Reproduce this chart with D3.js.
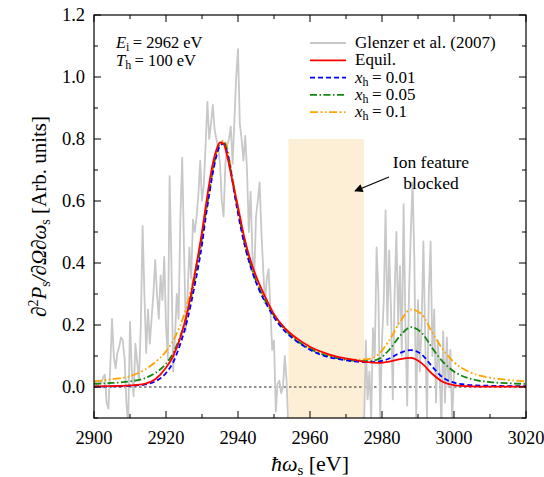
<!DOCTYPE html>
<html>
<head>
<meta charset="utf-8">
<title>Thomson scattering spectrum</title>
<script src="https://cdn.jsdelivr.net/npm/d3@7"></script>
<style>
  body { margin: 0; background: #fff; font-family: 'Liberation Serif', serif; }
  svg text { font-family: 'Liberation Serif', serif; }
</style>
</head>
<body>
<div id="figure"></div>
<script>
// tick labels
const xTicks = [2900, 2920, 2940, 2960, 2980, 3000, 3020];
const yTicks = [0.0, 0.2, 0.4, 0.6, 0.8, 1.0, 1.2];
const blocked = [2954, 2975];   // ion feature window [eV]
const blockedTop = 0.8;

// model curves, sampled energies [eV]
const energy = [2900, 2905, 2910, 2914, 2917, 2920, 2922, 2924, 2926, 2928, 2930, 2931, 2932, 2933, 2934, 2935, 2936, 2937, 2938, 2939, 2940, 2942, 2944, 2946, 2948, 2950, 2953, 2956, 2960, 2964, 2968, 2972, 2976, 2979, 2982, 2985, 2988, 2991, 2994, 2997, 3000, 3005, 3010, 3015, 3020];
const equil = [0.002, 0.003, 0.005, 0.01, 0.025, 0.062, 0.10, 0.16, 0.245, 0.365, 0.50, 0.58, 0.655, 0.72, 0.765, 0.789, 0.785, 0.745, 0.69, 0.635, 0.58, 0.47, 0.39, 0.33, 0.28, 0.235, 0.19, 0.16, 0.13, 0.11, 0.096, 0.088, 0.08, 0.078, 0.082, 0.09, 0.094, 0.077, 0.042, 0.016, 0.006, 0.002, 0.001, 0.001, 0.001];
const xh001 = [0.001, 0.002, 0.004, 0.008, 0.018, 0.045, 0.08, 0.14, 0.22, 0.33, 0.46, 0.545, 0.62, 0.69, 0.745, 0.778, 0.785, 0.755, 0.695, 0.625, 0.56, 0.45, 0.37, 0.31, 0.265, 0.225, 0.18, 0.15, 0.12, 0.10, 0.09, 0.083, 0.08, 0.082, 0.092, 0.11, 0.119, 0.105, 0.065, 0.03, 0.014, 0.006, 0.004, 0.003, 0.003];
const xh005 = [0.01, 0.013, 0.018, 0.028, 0.045, 0.075, 0.11, 0.165, 0.24, 0.35, 0.48, 0.56, 0.63, 0.70, 0.755, 0.785, 0.79, 0.76, 0.70, 0.63, 0.57, 0.455, 0.375, 0.315, 0.27, 0.23, 0.185, 0.153, 0.123, 0.103, 0.092, 0.085, 0.083, 0.09, 0.12, 0.165, 0.193, 0.175, 0.125, 0.08, 0.05, 0.025, 0.016, 0.012, 0.01];
const xh01 = [0.018, 0.025, 0.035, 0.055, 0.08, 0.115, 0.15, 0.2, 0.27, 0.37, 0.49, 0.56, 0.63, 0.70, 0.755, 0.785, 0.795, 0.77, 0.71, 0.64, 0.58, 0.465, 0.38, 0.32, 0.272, 0.232, 0.188, 0.156, 0.126, 0.106, 0.095, 0.088, 0.09, 0.105, 0.15, 0.21, 0.25, 0.235, 0.175, 0.12, 0.08, 0.045, 0.03, 0.023, 0.018];

// Glenzer et al. (2007) measurement, [energy, value], two segments around the blocked ion feature
const glenzerLow = [
  [2900.0, 0.01], [2900.5, 0.02], [2901.0, 0.00], [2901.5, 0.02], [2902.0, 0.01], [2902.5, 0.03],
  [2903.0, 0.04], [2903.5, -0.05], [2904.0, -0.07], [2904.5, 0.06], [2905.0, 0.22], [2905.5, 0.10],
  [2906.0, 0.06], [2906.5, 0.11], [2907.0, 0.13], [2907.5, 0.16], [2908.0, 0.15], [2908.5, 0.09],
  [2909.0, -0.05], [2909.5, -0.12], [2910.0, 0.21], [2910.5, 0.05], [2911.0, -0.03], [2911.5, 0.14],
  [2912.0, 0.08], [2912.5, 0.02], [2913.0, 0.20], [2913.5, 0.52], [2914.0, 0.30], [2914.5, 0.11],
  [2915.0, 0.25], [2915.5, 0.14], [2916.0, 0.22], [2916.5, 0.30], [2917.0, 0.41], [2917.5, 0.30],
  [2918.0, 0.22], [2918.5, 0.36], [2919.0, 0.28], [2919.5, 0.42], [2920.0, 0.20], [2920.5, 0.09],
  [2921.0, 0.68], [2921.5, 0.40], [2922.0, 0.05], [2922.5, 0.16], [2923.0, 0.30], [2923.5, 0.22],
  [2924.0, 0.55], [2924.5, 0.74], [2925.0, 0.45], [2925.5, 0.18], [2926.0, 0.30], [2926.5, 0.45],
  [2927.0, 0.35], [2927.5, 0.54], [2928.0, 0.50], [2928.5, 0.55], [2929.0, 0.62], [2929.5, 0.73],
  [2930.0, 0.60], [2930.5, 0.65], [2931.0, 0.78], [2931.5, 0.92], [2932.0, 0.80], [2932.5, 0.85],
  [2933.0, 0.91], [2933.5, 0.83], [2934.0, 0.80], [2934.5, 0.77], [2935.0, 0.72], [2935.5, 0.60],
  [2936.0, 0.55], [2936.5, 0.72], [2937.0, 0.78], [2937.5, 0.80], [2938.0, 0.84], [2938.5, 0.72],
  [2939.0, 0.86], [2939.5, 1.00], [2940.0, 1.09], [2940.5, 0.85], [2941.0, 0.80], [2941.5, 0.73],
  [2942.0, 0.81], [2942.5, 0.70], [2943.0, 0.50], [2943.5, 0.63], [2944.0, 0.43], [2944.5, 0.35],
  [2945.0, 0.55], [2945.5, 0.60], [2946.0, 0.66], [2946.5, 0.50], [2947.0, 0.38], [2947.5, 0.27],
  [2948.0, 0.35], [2948.5, 0.38], [2949.0, 0.25], [2949.5, 0.12], [2950.0, 0.15], [2950.5, -0.08],
  [2951.0, 0.01], [2951.5, 0.02], [2952.0, -0.02], [2952.5, 0.00], [2953.0, 0.10], [2953.5, 0.02],
  [2954.0, -0.14]
];
const glenzerHigh = [
  [2975.0, -0.14], [2975.5, 0.15], [2976.0, -0.04], [2976.5, 0.05], [2977.0, -0.10], [2977.5, 0.19],
  [2978.0, 0.10], [2978.5, 0.45], [2979.0, 0.30], [2979.5, -0.10], [2980.0, 0.15], [2980.5, 0.28],
  [2981.0, 0.57], [2981.5, 0.20], [2982.0, 0.44], [2982.5, 0.25], [2983.0, -0.04], [2983.5, 0.30],
  [2984.0, 0.50], [2984.5, 0.20], [2985.0, 0.39], [2985.5, 0.10], [2986.0, 0.59], [2986.5, 0.20],
  [2987.0, -0.06], [2987.5, 0.30], [2988.0, 0.50], [2988.5, 0.66], [2989.0, 0.40], [2989.5, -0.10],
  [2990.0, 0.28], [2990.5, 0.05], [2991.0, 0.20], [2991.5, 0.47], [2992.0, 0.15], [2992.5, -0.10],
  [2993.0, 0.30], [2993.5, 0.47], [2994.0, 0.10], [2994.5, 0.25], [2995.0, -0.05], [2995.5, 0.15],
  [2996.0, 0.05], [2996.5, -0.12], [2997.0, 0.18], [2997.5, -0.05], [2998.0, 0.16], [2998.5, 0.00],
  [2999.0, 0.12], [2999.5, -0.12], [3000.0, 0.05]
];

const width = 544, height = 477;
const margin = { top: 15, right: 18, bottom: 59, left: 94 };
const innerW = width - margin.left - margin.right;
const innerH = height - margin.top - margin.bottom;
const FONT_STYLE = 'font-family: Liberation Serif, serif';

const x = d3.scaleLinear().domain([2900, 3020]).range([0, innerW]);
const y = d3.scaleLinear().domain([-0.1, 1.2]).range([innerH, 0]);

const svg = d3.select('#figure').append('svg')
    .attr('width', width)
    .attr('height', height)
    .attr('style', FONT_STYLE);

svg.append('defs').append('clipPath').attr('id', 'plot-clip')
    .append('rect').attr('width', innerW).attr('height', innerH);

const g = svg.append('g').attr('transform', `translate(${margin.left},${margin.top})`);
const plot = g.append('g').attr('clip-path', 'url(#plot-clip)');

// blocked window
plot.append('rect')
    .attr('x', x(blocked[0]))
    .attr('width', x(blocked[1]) - x(blocked[0]))
    .attr('y', y(blockedTop))
    .attr('height', y(-0.1) - y(blockedTop))
    .attr('fill', '#fdeed6');

// zero line
plot.append('line')
    .attr('x1', 0).attr('x2', innerW)
    .attr('y1', y(0)).attr('y2', y(0))
    .attr('stroke', '#222').attr('stroke-width', 1)
    .attr('stroke-dasharray', '2.5,2.5');

const dataLine = d3.line().x(d => x(d[0])).y(d => y(d[1]));
[glenzerLow, glenzerHigh].forEach(seg => {
    plot.append('path')
        .attr('d', dataLine(seg))
        .attr('fill', 'none')
        .attr('stroke', '#c8c8c8')
        .attr('stroke-width', 1.8)
        .attr('stroke-linejoin', 'round');
});

const series = [
    { label: 'Equil.', values: equil, color: '#ff0000', dash: null },
    { label: '0.01', values: xh001, color: '#0000ff', dash: '5,3' },
    { label: '0.05', values: xh005, color: '#118811', dash: '7,2.5,1.5,2.5' },
    { label: '0.1', values: xh01, color: '#ffa500', dash: '8,2.5,2,2.5,1.5,2.5' }
];

const modelLine = d3.line()
    .x((d, i) => x(energy[i]))
    .y(d => y(d))
    .curve(d3.curveMonotoneX);

// draw back to front so the red curve ends on top of the others
[series[3], series[2], series[1], series[0]].forEach(s => {
    plot.append('path')
        .attr('d', modelLine(s.values))
        .attr('fill', 'none')
        .attr('stroke', s.color)
        .attr('stroke-width', 1.8)
        .attr('stroke-dasharray', s.dash);
});

function label(parent, xx, yy, size) {
    return parent.append('text')
        .attr('x', xx).attr('y', yy)
        .attr('style', FONT_STYLE + '; font-size: ' + size + 'px');
}

// frame and ticks (inward, on all four sides)
const xMinor = d3.range(2900, 3021, 10);
const yMinor = d3.range(-0.1, 1.21, 0.1).map(v => +v.toFixed(2));
const ticks = g.append('g').attr('stroke', '#000').attr('stroke-width', 1);
xMinor.forEach(v => {
    const len = xTicks.includes(v) ? 7 : 4;
    ticks.append('line').attr('x1', x(v)).attr('x2', x(v)).attr('y1', innerH).attr('y2', innerH - len);
    ticks.append('line').attr('x1', x(v)).attr('x2', x(v)).attr('y1', 0).attr('y2', len);
});
yMinor.forEach(v => {
    const len = yTicks.some(t => Math.abs(t - v) < 1e-6) ? 7 : 4;
    ticks.append('line').attr('y1', y(v)).attr('y2', y(v)).attr('x1', 0).attr('x2', len);
    ticks.append('line').attr('y1', y(v)).attr('y2', y(v)).attr('x1', innerW).attr('x2', innerW - len);
});
g.append('rect')
    .attr('width', innerW).attr('height', innerH)
    .attr('fill', 'none').attr('stroke', '#000').attr('stroke-width', 1.2);

xTicks.forEach(d => label(g, x(d), innerH + 26, 18.5).attr('text-anchor', 'middle').text(d));
yTicks.forEach(d => label(g, -9, y(d) + 6, 18.5).attr('text-anchor', 'end').text(d.toFixed(1)));

// axis titles
const xt = label(svg, margin.left + x(2960), 471, 22).attr('text-anchor', 'middle');
xt.append('tspan').attr('font-style', 'italic').text('ħω');
xt.append('tspan').attr('font-size', 15).attr('dy', 4).text('s');
xt.append('tspan').attr('dy', -4).text(' [eV]');

const yt = label(svg, 0, 0, 21)
    .attr('transform', `translate(46,${margin.top + innerH / 2}) rotate(-90)`)
    .attr('text-anchor', 'middle');
yt.append('tspan').attr('font-style', 'italic').text('∂');
yt.append('tspan').attr('font-size', 14).attr('dy', -8).text('2');
yt.append('tspan').attr('font-style', 'italic').attr('dy', 8).text('P');
yt.append('tspan').attr('font-size', 14).attr('dy', 4).text('s');
yt.append('tspan').attr('dy', -4).attr('font-style', 'italic').text('/∂Ω∂ω');
yt.append('tspan').attr('font-size', 14).attr('dy', 4).text('s');
yt.append('tspan').attr('dy', -4).text(' [Arb. units]');

// parameters, top left
function mathLabel(parent, xx, yy, sym, sub, rest, size) {
    const t = label(parent, xx, yy, size);
    t.append('tspan').attr('font-style', 'italic').text(sym);
    t.append('tspan').attr('font-size', Math.round(size * 0.7)).attr('dy', 3).text(sub);
    t.append('tspan').attr('dy', -3).text(rest);
    return t;
}
mathLabel(svg, 116, 48, 'E', 'i', '\u2009= 2962 eV', 16.5);
mathLabel(svg, 116, 66, 'T', 'h', '\u2009= 100 eV', 16.5);

// legend
const legend = svg.append('g').attr('transform', 'translate(310,43)');
const rowH = 17.3;
const legendRows = [{ color: '#c8c8c8', dash: null, label: null }].concat(series);
legendRows.forEach((r, i) => {
    const ry = i * rowH;
    legend.append('line')
        .attr('x1', 0).attr('x2', 36).attr('y1', ry).attr('y2', ry)
        .attr('stroke', r.color).attr('stroke-width', 1.8)
        .attr('stroke-dasharray', r.dash);
    if (i === 0) {
        label(legend, 45, ry + 5, 17).text('Glenzer et al. (2007)');
    } else if (i === 1) {
        label(legend, 45, ry + 5, 17).text('Equil.');
    } else {
        mathLabel(legend, 45, ry + 5, 'x', 'h', '\u2009= ' + r.label, 17);
    }
});

// annotation
label(svg, 431, 168, 17.5).attr('text-anchor', 'middle').text('Ion feature');
label(svg, 431, 189, 17.5).attr('text-anchor', 'middle').text('blocked');
svg.append('defs').append('marker')
    .attr('id', 'arrowhead').attr('viewBox', '0 0 10 10')
    .attr('refX', 9).attr('refY', 5)
    .attr('markerWidth', 9).attr('markerHeight', 7)
    .attr('orient', 'auto-start-reverse')
    .append('path').attr('d', 'M0,0 L10,5 L0,10 z').attr('fill', '#000');
svg.append('line')
    .attr('x1', 389).attr('y1', 177).attr('x2', 355).attr('y2', 191)
    .attr('stroke', '#000').attr('stroke-width', 1.2)
    .attr('marker-end', 'url(#arrowhead)');
</script>
</body>
</html>
